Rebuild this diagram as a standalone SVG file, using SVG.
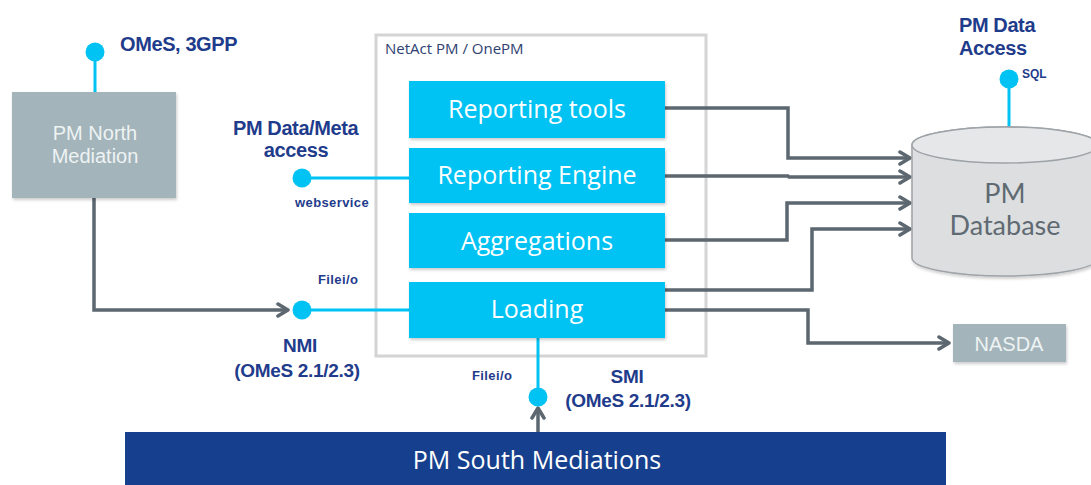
<svg xmlns="http://www.w3.org/2000/svg" width="1091" height="485" viewBox="0 0 1091 485">
<defs>
<style>
.lbl{font-family:"Liberation Sans",Arial,sans-serif;font-weight:bold;fill:#1f3c8c;}
.sm{font-size:13px;letter-spacing:0.4px;}
.big{font-size:20px;letter-spacing:-0.4px;}
.mid{font-size:19px;letter-spacing:-0.3px;}
.comp{fill:#00c2f3;}
.comptext{font-family:"Open Sans","Noto Sans",sans-serif;font-size:25px;fill:#ffffff;text-anchor:middle;}
.gray{fill:#a3b4ba;}
.graytext{font-family:"Liberation Sans",Arial,sans-serif;font-size:20px;fill:#eef3f4;text-anchor:middle;}
.conn{fill:none;stroke:#5c6770;stroke-width:3.5;}
.cyan{fill:none;stroke:#00c2f3;stroke-width:3;}
.dot{fill:#00c2f3;}
.dbtext{font-family:Lato,"Open Sans",sans-serif;font-size:27px;fill:#5f6a72;text-anchor:middle;}
</style>
<marker id="arr" markerUnits="userSpaceOnUse" markerWidth="16" markerHeight="16" viewBox="0 0 16 16" refX="13" refY="8" orient="auto">
<path d="M3,2 L13,8 L3,14" fill="none" stroke="#5c6770" stroke-width="3.5" stroke-linecap="round" stroke-linejoin="round"/>
</marker>
<filter id="sh" x="-10%" y="-10%" width="120%" height="130%">
<feDropShadow dx="1" dy="2" stdDeviation="1.5" flood-color="#000" flood-opacity="0.2"/>
</filter>
</defs>
<rect width="1091" height="485" fill="#ffffff"/>

<g id="netact">
<rect x="376" y="35" width="330" height="321" fill="#ffffff" stroke="#d4d4d4" stroke-width="3"/>
<text x="385" y="54" font-family="Open Sans,Noto Sans,sans-serif" font-size="15" fill="#2e4170">NetAct PM / OnePM</text>
</g>

<g id="connectors">
<path class="cyan" d="M95,52 V92"/>
<path class="cyan" d="M302,178 H409"/>
<path class="cyan" d="M302,310 H409"/>
<path class="cyan" d="M538,338 V397"/>
<path class="cyan" d="M1009,79 V128"/>
<path class="conn" d="M94,198 V310 H288" marker-end="url(#arr)"/>
<path class="conn" d="M538,432 V408" marker-end="url(#arr)"/>
<path class="conn" d="M665,108 H788 V158 H910" marker-end="url(#arr)"/>
<path class="conn" d="M665,176 H788 L789,177 H910" marker-end="url(#arr)"/>
<path class="conn" d="M665,240 H787 V203 H910" marker-end="url(#arr)"/>
<path class="conn" d="M665,290 H812 V229 H910" marker-end="url(#arr)"/>
<path class="conn" d="M665,310 H808 V343 H949" marker-end="url(#arr)"/>
<circle class="dot" cx="95" cy="52" r="9.5"/>
<circle class="dot" cx="302" cy="178" r="9.5"/>
<circle class="dot" cx="302" cy="310" r="9.5"/>
<circle class="dot" cx="538" cy="397" r="9.5"/>
<circle class="dot" cx="1009" cy="79" r="9.5"/>
</g>

<g id="north-mediation">
<rect class="gray" x="12" y="92" width="164" height="106" filter="url(#sh)"/>
<text class="graytext" x="95" y="140">PM North</text>
<text class="graytext" x="95" y="163">Mediation</text>
</g>

<g id="reporting-tools">
<rect class="comp" x="409" y="81" width="256" height="57" filter="url(#sh)"/>
<text class="comptext" x="537" y="118">Reporting tools</text>
</g>
<g id="reporting-engine">
<rect class="comp" x="409" y="148" width="256" height="55" filter="url(#sh)"/>
<text class="comptext" x="537" y="184">Reporting Engine</text>
</g>
<g id="aggregations">
<rect class="comp" x="409" y="213" width="256" height="55" filter="url(#sh)"/>
<text class="comptext" x="537" y="250">Aggregations</text>
</g>
<g id="loading">
<rect class="comp" x="409" y="282" width="256" height="56" filter="url(#sh)"/>
<text class="comptext" x="537" y="318">Loading</text>
</g>

<g id="pm-database">
<path d="M912,145 A93,18 0 0 1 1098,145 L1098,258 A93,18 0 0 1 912,258 Z" fill="#dcdee0" stroke="#9ea3a7" stroke-width="1.5" filter="url(#sh)"/>
<ellipse cx="1005" cy="145" rx="93" ry="18" fill="#e6e7e8" stroke="#9ea3a7" stroke-width="1.5"/>
<text class="dbtext" x="1005" y="203">PM</text>
<text class="dbtext" x="1005" y="235">Database</text>
</g>

<g id="nasda">
<rect class="gray" x="953" y="324" width="113" height="38" filter="url(#sh)"/>
<text class="graytext" x="1009" y="351">NASDA</text>
</g>

<g id="south-mediations">
<rect x="125" y="432" width="821" height="53" fill="#163f8d"/>
<text x="537" y="469" font-family="Open Sans,Noto Sans,sans-serif" font-size="25" fill="#ffffff" text-anchor="middle">PM South Mediations</text>
</g>

<g id="labels">
<text class="lbl big" x="120" y="51">OMeS, 3GPP</text>
<text class="lbl big" x="233" y="135">PM Data/Meta</text>
<text class="lbl big" x="296" y="157" text-anchor="middle">access</text>
<text class="lbl sm" x="295" y="207">webservice</text>
<text class="lbl sm" x="318" y="284">Filei/o</text>
<text class="lbl mid" x="300" y="352" text-anchor="middle">NMI</text>
<text class="lbl mid" x="297" y="377" text-anchor="middle">(OMeS 2.1/2.3)</text>
<text class="lbl sm" x="472" y="380">Filei/o</text>
<text class="lbl mid" x="627" y="383" text-anchor="middle">SMI</text>
<text class="lbl mid" x="628" y="407" text-anchor="middle">(OMeS 2.1/2.3)</text>
<text class="lbl big" x="959" y="32">PM Data</text>
<text class="lbl big" x="959" y="55">Access</text>
<text class="lbl" x="1022" y="78" font-size="12">SQL</text>
</g>
</svg>
